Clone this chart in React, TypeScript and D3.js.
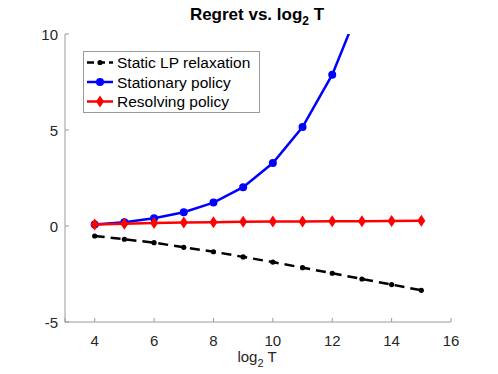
import React from "react";
import * as d3 from "d3";

// log2 T values and regret series
const xValues = [4, 5, 6, 7, 8, 9, 10, 11, 12, 13, 14, 15];
const staticLP = [-0.52, -0.69, -0.87, -1.11, -1.34, -1.61, -1.88, -2.17, -2.46, -2.76, -3.05, -3.35];
const stationary = [0.08, 0.2, 0.4, 0.72, 1.22, 2.02, 3.28, 5.15, 7.88, 11.7, 17.5, 26.0];
const resolving = [0.08, 0.12, 0.15, 0.18, 0.2, 0.22, 0.23, 0.24, 0.25, 0.25, 0.26, 0.27];
const xTicks = [4, 6, 8, 10, 12, 14, 16];
const yTicks = [-5, 0, 5, 10];

const W = 498;
const H = 374;
const left = 65;
const right = 451;
const top = 34;
const bottom = 322;
const font = "'Liberation Sans', Arial, Helvetica, sans-serif";

const App = () => {
  const x = d3.scaleLinear().domain([3, 16]).range([left, right]);
  const y = d3.scaleLinear().domain([-5, 10]).range([bottom, top]);

  const line = d3
    .line<number>()
    .x((_, i) => x(xValues[i]))
    .y((d) => y(d));

  const diamond = (cx: number, cy: number) =>
    `M${cx},${cy - 6}L${cx + 4},${cy}L${cx},${cy + 6}L${cx - 4},${cy}Z`;

  // legend layout
  const lgX = 83;
  const lgY = 51;
  const lgW = 176;
  const lgH = 61;
  const rows = [
    { label: "Static LP relaxation", color: "#000", dash: "7,4", marker: "dot" },
    { label: "Stationary policy", color: "#0000ff", dash: null, marker: "circle" },
    { label: "Resolving policy", color: "#ff0000", dash: null, marker: "diamond" },
  ];

  return (
    <svg width={W} height={H} style={{ position: "absolute", left: 0, top: 0 }}>
      <rect width={W} height={H} fill="#fff" />
      <defs>
        <clipPath id="plotArea">
          <rect x={left} y={top} width={right - left} height={bottom - top} />
        </clipPath>
      </defs>

      {/* title */}
      <text x={257} y={20} textAnchor="middle" fontFamily={font} fontSize={17} fontWeight="bold" fill="#000">
        Regret vs. log
        <tspan dy={5} fontSize={12}>2</tspan>
        <tspan dy={-5}> T</tspan>
      </text>

      {/* axes */}
      <g stroke="#9a9a9a" strokeWidth={1} fill="none">
        <line x1={left} y1={top} x2={left} y2={bottom + 0.5} />
        <line x1={left} y1={bottom} x2={right} y2={bottom} />
        {xTicks.map((t) => (
          <line key={t} x1={x(t)} x2={x(t)} y1={bottom} y2={bottom - 4} />
        ))}
        <line x1={x(3)} x2={x(3)} y1={bottom} y2={bottom - 4} />
        {yTicks.map((t) => (
          <line key={t} x1={left} x2={left + 4} y1={y(t)} y2={y(t)} />
        ))}
      </g>
      <g fontFamily={font} fontSize={15} fill="#262626">
        {xTicks.map((t) => (
          <text key={t} x={x(t)} y={bottom + 24} textAnchor="middle">
            {t}
          </text>
        ))}
        {yTicks.map((t) => (
          <text key={t} x={left - 7} y={y(t) + 5.5} textAnchor="end">
            {t}
          </text>
        ))}
        <text x={257} y={362} textAnchor="middle">
          log
          <tspan dy={5} fontSize={11}>2</tspan>
          <tspan dy={-5}> T</tspan>
        </text>
      </g>

      {/* series */}
      <g clipPath="url(#plotArea)">
        <path d={line(staticLP) ?? ""} fill="none" stroke="#000" strokeWidth={2.5} strokeDasharray="10,6" />
        {staticLP.map((v, i) => (
          <circle key={"s" + i} cx={x(xValues[i])} cy={y(v)} r={2.6} fill="#000" />
        ))}
        <path d={line(stationary) ?? ""} fill="none" stroke="#0000ff" strokeWidth={2.5} />
        {stationary.map((v, i) => (
          <circle key={"b" + i} cx={x(xValues[i])} cy={y(v)} r={4} fill="#0000ff" />
        ))}
        <path d={line(resolving) ?? ""} fill="none" stroke="#ff0000" strokeWidth={2.5} />
        {resolving.map((v, i) => (
          <path key={"r" + i} d={diamond(x(xValues[i]), y(v))} fill="#ff0000" />
        ))}
      </g>

      {/* legend */}
      <rect x={lgX + 0.5} y={lgY + 0.5} width={lgW} height={lgH} fill="#fff" stroke="#9a9a9a" strokeWidth={1} />
      {rows.map((r, i) => {
        const cy = lgY + 11.5 + i * 19.5;
        const x1 = lgX + 4;
        const x2 = lgX + 30;
        const mx = (x1 + x2) / 2;
        return (
          <g key={r.label}>
            <line
              x1={x1}
              x2={x2}
              y1={cy}
              y2={cy}
              stroke={r.color}
              strokeWidth={2.5}
              strokeDasharray={r.dash ?? undefined}
            />
            {r.marker === "dot" && <circle cx={mx} cy={cy} r={2.6} fill={r.color} />}
            {r.marker === "circle" && <circle cx={mx} cy={cy} r={4} fill={r.color} />}
            {r.marker === "diamond" && <path d={diamond(mx, cy)} fill={r.color} />}
            <text x={lgX + 34} y={cy + 5.5} fontFamily={font} fontSize={15.5} fill="#000">
              {r.label}
            </text>
          </g>
        );
      })}
    </svg>
  );
};

export default App;
